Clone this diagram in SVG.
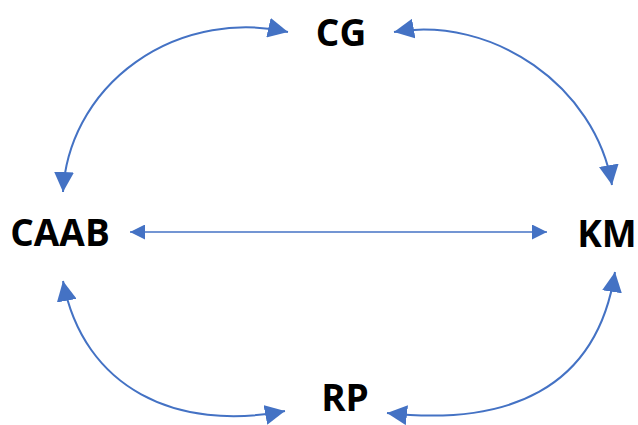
<svg xmlns="http://www.w3.org/2000/svg" width="638" height="425" viewBox="0 0 638 425">
  <style>
    .label { font-family: "Open Sans", "Liberation Sans", sans-serif; font-weight: 700; font-size: 37px; fill: #000; text-anchor: middle; }
    .link { fill: none; stroke: #4472C4; }
    .curve { stroke-width: 2; }
    .straight { stroke-width: 1.5; }
  </style>
  <defs>
    <marker id="head" viewBox="0 0 10 10" refX="10" refY="5" markerWidth="10" markerHeight="10" markerUnits="strokeWidth" orient="auto-start-reverse">
      <path d="M0,0 L10,5 L0,10 z" fill="#4472C4"/>
    </marker>
  </defs>

  <g id="connectors">
    <!-- CAAB <-> CG -->
    <path class="link curve" d="M63,192 A183,173 0 0 1 288,32" marker-start="url(#head)" marker-end="url(#head)"/>
    <!-- CG <-> KM -->
    <path class="link curve" d="M394,32 C492.5,15 595.6,86.4 612,185" marker-start="url(#head)" marker-end="url(#head)"/>
    <!-- CAAB <-> KM -->
    <path class="link straight" d="M130,232 L547,232" marker-start="url(#head)" marker-end="url(#head)"/>
    <!-- CAAB <-> RP -->
    <path class="link curve" d="M63,281 C83.5,388.8 177,432 285,411" marker-start="url(#head)" marker-end="url(#head)"/>
    <!-- KM <-> RP -->
    <path class="link curve" d="M615,272 C596.8,390.6 506.3,426.2 387,413" marker-start="url(#head)" marker-end="url(#head)"/>
  </g>

  <g id="node-cg"><text class="label" x="341" y="46">CG</text></g>
  <g id="node-caab"><text class="label" x="60" y="246">CAAB</text></g>
  <g id="node-km"><text class="label" x="607" y="247">KM</text></g>
  <g id="node-rp"><text class="label" x="345" y="411">RP</text></g>
</svg>
